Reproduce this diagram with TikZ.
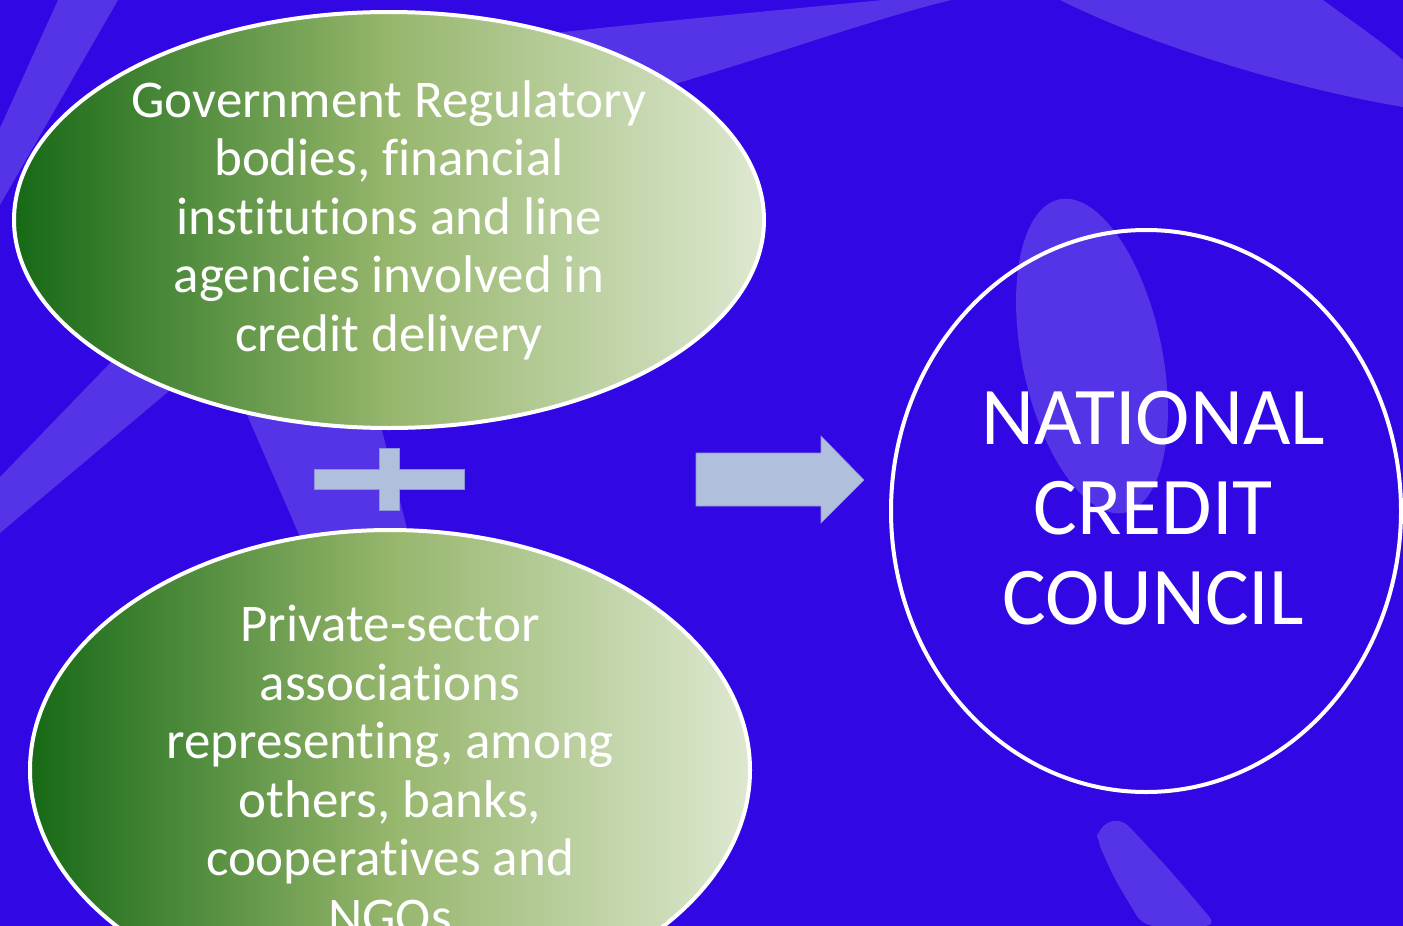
\documentclass[tikz,border=0pt]{standalone}
\usepackage{fontspec}
\setmainfont{Carlito}[RawFeature={-liga;-clig}]
\usetikzlibrary{shapes.geometric}
\definecolor{bgblue}{RGB}{49,7,227}
\definecolor{lightband}{RGB}{85,51,231}
\definecolor{gdark}{RGB}{22,105,22}
\definecolor{gmid}{RGB}{150,182,108}
\definecolor{glight}{RGB}{222,232,208}
\definecolor{symfill}{RGB}{176,192,220}
\definecolor{symline}{RGB}{140,150,215}
\begin{document}
\begin{tikzpicture}[x=1pt,y=-1pt,
  band/.style={fill=lightband},
  greenoval/.style={ellipse, draw=white, line width=4pt, left color=gdark, right color=glight, middle color=gmid, inner sep=0pt},
  ringoval/.style={ellipse, draw=white, line width=4pt, inner sep=0pt},
  ovaltext/.style={text=white, align=center, inner sep=0pt, font=\fontsize{53}{58.5}\selectfont},
  bigtext/.style={text=white, align=center, inner sep=0pt, font=\fontsize{82}{90}\selectfont},
  symbolshape/.style={fill=symfill, draw=symline, line width=0.6pt}]
\useasboundingbox (0,0) rectangle (1403,926);
\fill[bgblue] (0,0) rectangle (1403,926);
% decorative light bands
\fill[band] (58,0) -- (118,0) -- (0,205) -- (0,128) -- cycle;
\fill[band] (200,270) -- (250,323) -- (0,533) -- (0,477) -- cycle;
\fill[band] (235,387) -- (373,395) -- (415,560) -- (310,560) -- cycle;
\fill[band] (500,39) .. controls (650,22) and (800,8) .. (883,0) -- (951,0) .. controls (850,25) and (720,75) .. (600,104) -- cycle;
\fill[band] (1060,0) -- (1323,0) .. controls (1350,20) and (1380,40) .. (1403,60) -- (1403,107) .. controls (1290,88) and (1150,45) .. (1060,0) -- cycle;
\fill[band, rotate around={11.8:(1092,356)}] (1092,356) ellipse [x radius=70, y radius=160];
\fill[band, rounded corners=12pt] (1097,840) .. controls (1115,880) .. (1143,926) -- (1217,926) .. controls (1170,870) .. (1120,817) -- (1097,828) -- cycle;
% ovals
\node[greenoval, minimum width=750pt, minimum height=416pt] (top) at (389,220) {};
\node[ovaltext] (toptext) at (top.center) {Government Regulatory\\bodies, financial\\institutions and line\\agencies involved in\\credit delivery};
\node[greenoval, minimum width=720pt, minimum height=480pt] (bottom) at (390,770) {};
\node[ovaltext] (bottomtext) at (bottom.center) {Private-sector\\associations\\representing, among\\others, banks,\\cooperatives and\\NGOs};
\node[ringoval, minimum width=510pt, minimum height=562pt] (council) at (1146,511) {};
\node[bigtext] (counciltext) at (1153,508) {NATIONAL\\CREDIT\\COUNCIL};
% plus sign
\draw[symbolshape] (314,469) -- (379,469) -- (379,448) -- (399,448) -- (399,469) -- (464,469) -- (464,489) -- (399,489) -- (399,510) -- (379,510) -- (379,489) -- (314,489) -- cycle;
% block arrow
\draw[symbolshape] (696,453) -- (821,453) -- (821,436) -- (864,480) -- (821,523) -- (821,506) -- (696,506) -- cycle;
\end{tikzpicture}
\end{document}
